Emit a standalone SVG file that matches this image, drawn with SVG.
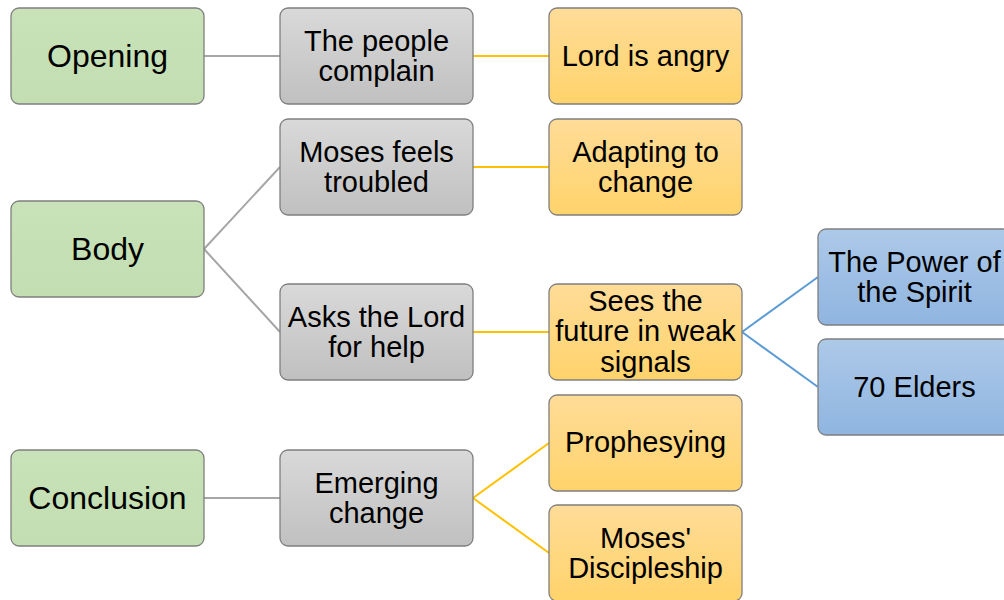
<svg xmlns="http://www.w3.org/2000/svg" width="1004" height="600" viewBox="0 0 1004 600">
<style>
  text { font-family: "Liberation Sans", Arial, sans-serif; font-size: 29px; fill: #000; text-anchor: middle; }
  text.big { font-size: 32px; }
  .box { stroke: #7f7f7f; stroke-width: 1.3; }
  .g { fill: url(#gG); }
  .k { fill: url(#gK); }
  .o { fill: url(#gO); }
  .b { fill: url(#gB); }
  .lk { stroke: #a6a6a6; stroke-width: 2; fill: none; }
  .lo { stroke: #ffc000; stroke-width: 2; fill: none; }
  .lb { stroke: #5b9bd5; stroke-width: 2; fill: none; }
</style>
<defs>
  <linearGradient id="gG" x1="0" y1="0" x2="0" y2="1"><stop offset="0" stop-color="#c9e2b9"/><stop offset="1" stop-color="#c3deb1"/></linearGradient>
  <linearGradient id="gK" x1="0" y1="0" x2="0" y2="1"><stop offset="0" stop-color="#d9d9d9"/><stop offset="1" stop-color="#c0c0c0"/></linearGradient>
  <linearGradient id="gO" x1="0" y1="0" x2="0" y2="1"><stop offset="0" stop-color="#ffdc98"/><stop offset="1" stop-color="#ffd36b"/></linearGradient>
  <linearGradient id="gB" x1="0" y1="0" x2="0" y2="1"><stop offset="0" stop-color="#adc9e8"/><stop offset="1" stop-color="#8fb5e0"/></linearGradient>
</defs>
<rect width="1004" height="600" fill="#fff"/>
<g id="connectors">
  <line class="lk" x1="204" y1="56" x2="280" y2="56"/>
  <line class="lk" x1="204" y1="249" x2="280" y2="167"/>
  <line class="lk" x1="204" y1="249" x2="280" y2="332"/>
  <line class="lk" x1="204" y1="498" x2="280" y2="498"/>
  <line class="lo" x1="473" y1="56" x2="549" y2="56"/>
  <line class="lo" x1="473" y1="167" x2="549" y2="167"/>
  <line class="lo" x1="473" y1="332" x2="549" y2="332"/>
  <line class="lo" x1="473" y1="498" x2="549" y2="443"/>
  <line class="lo" x1="473" y1="498" x2="549" y2="553"/>
  <line class="lb" x1="742" y1="332" x2="818" y2="277"/>
  <line class="lb" x1="742" y1="332" x2="818" y2="387"/>
</g>
<g id="opening"><rect class="box g" x="11" y="8" width="193" height="96" rx="8"/><text class="big" x="107.5" y="67">Opening</text></g>
<g id="body"><rect class="box g" x="11" y="201" width="193" height="96" rx="8"/><text class="big" x="107.5" y="260">Body</text></g>
<g id="conclusion"><rect class="box g" x="11" y="450" width="193" height="96" rx="8"/><text class="big" x="107.5" y="509">Conclusion</text></g>

<g id="people-complain"><rect class="box k" x="280" y="8" width="193" height="96" rx="8"/><text x="376.5" y="51">The people</text><text x="376.5" y="81">complain</text></g>
<g id="moses-troubled"><rect class="box k" x="280" y="119" width="193" height="96" rx="8"/><text x="376.5" y="162">Moses feels</text><text x="376.5" y="192">troubled</text></g>
<g id="asks-lord"><rect class="box k" x="280" y="284" width="193" height="96" rx="8"/><text x="376.5" y="327">Asks the Lord</text><text x="376.5" y="357">for help</text></g>
<g id="emerging-change"><rect class="box k" x="280" y="450" width="193" height="96" rx="8"/><text x="376.5" y="493">Emerging</text><text x="376.5" y="523">change</text></g>

<g id="lord-angry"><rect class="box o" x="549" y="8" width="193" height="96" rx="8"/><text x="645.5" y="66">Lord is angry</text></g>
<g id="adapting"><rect class="box o" x="549" y="119" width="193" height="96" rx="8"/><text x="645.5" y="162">Adapting to</text><text x="645.5" y="192">change</text></g>
<g id="sees-future"><rect class="box o" x="549" y="284" width="193" height="96" rx="8"/><text x="645.5" y="311">Sees the</text><text x="645.5" y="341">future in weak</text><text x="645.5" y="372">signals</text></g>
<g id="prophesying"><rect class="box o" x="549" y="395" width="193" height="96" rx="8"/><text x="645.5" y="452">Prophesying</text></g>
<g id="discipleship"><rect class="box o" x="549" y="505" width="193" height="96" rx="8"/><text x="645.5" y="548">Moses'</text><text x="645.5" y="578">Discipleship</text></g>

<g id="power-spirit"><rect class="box b" x="818" y="229" width="193" height="96" rx="8"/><text x="914.5" y="272">The Power of</text><text x="914.5" y="302">the Spirit</text></g>
<g id="elders"><rect class="box b" x="818" y="339" width="193" height="96" rx="8"/><text x="914.5" y="397">70 Elders</text></g>
</svg>
